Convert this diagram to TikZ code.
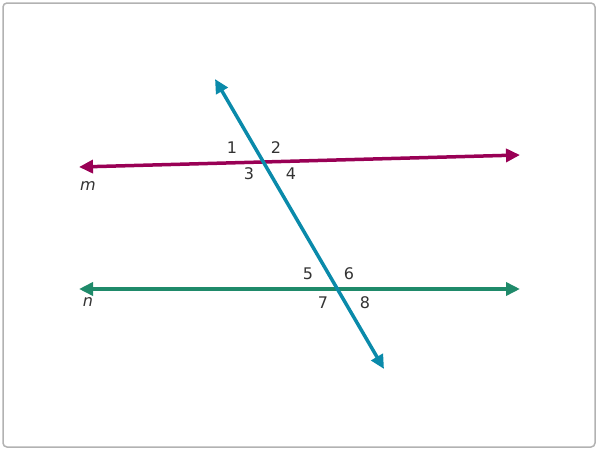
\documentclass[tikz,border=0pt]{standalone}
\usepackage{fontspec}
\setmainfont{DejaVu Sans}
\usetikzlibrary{arrows.meta}
\definecolor{linem}{HTML}{990055}
\definecolor{linen}{HTML}{1F8A6A}
\definecolor{transv}{HTML}{0A8AAA}
\definecolor{labgray}{HTML}{333333}
\tikzstyle{every node}=[text centered, font=\fontsize{16}{18}\selectfont, text=labgray, inner sep=1pt]
\tikzstyle{parline}=[line width=3.5pt, {Triangle[length=14pt,width=13pt]}-{Triangle[length=14pt,width=13pt]}]

\begin{document}
\begin{tikzpicture}[x=1pt, y=-1pt]
  \useasboundingbox (0,0) rectangle (598,450);
  \draw[rounded corners=4pt, line width=1.5pt, color=black!30] (3,3) rectangle (595,447);

  % end points
  \coordinate (mL) at (79,167);
  \coordinate (mR) at (520,155);
  \coordinate (nL) at (79,289);
  \coordinate (nR) at (520,289);
  \coordinate (tT) at (215,79);
  \coordinate (tB) at (384,369);

  \draw[parline, color=linem] (mL) -- (mR);
  \draw[parline, color=linen] (nL) -- (nR);
  \draw[parline, color=transv] (tT) -- (tB);

  % angle labels
  \node (a1) at (232,148) {1};
  \node (a2) at (276,148) {2};
  \node (a3) at (249,174) {3};
  \node (a4) at (291,174) {4};
  \node (a5) at (308,274) {5};
  \node (a6) at (349,274) {6};
  \node (a7) at (323,303) {7};
  \node (a8) at (365,303) {8};

  \node (labm) at (88,186) {\itshape m};
  \node (labn) at (88,302) {\itshape n};
\end{tikzpicture}
\end{document}
